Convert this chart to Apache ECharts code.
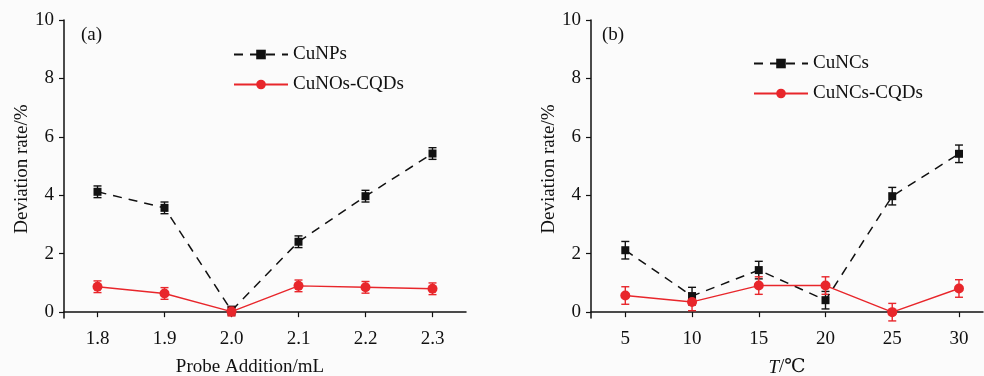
<!DOCTYPE html>
<html>
<head>
<meta charset="utf-8">
<script src="https://cdn.jsdelivr.net/npm/echarts@6/dist/echarts.min.js"></script>
<style>
  html, body { margin: 0; padding: 0; background: #fbfbfb; }
  #main { width: 984px; height: 376px; }
</style>
</head>
<body>
<div id="main"></div>
<script>
// panel (a)
const probeAdd = [1.8, 1.9, 2.0, 2.1, 2.2, 2.3]
const cuNPs = [4.12, 3.57, 0.05, 2.41, 3.97, 5.43]
const cuNPsErr = [0.2, 0.2, 0.15, 0.2, 0.2, 0.2]
const cuNOsCQDs = [0.87, 0.64, 0.02, 0.9, 0.85, 0.8]
const cuNOsCQDsErr = [0.2, 0.2, 0.15, 0.2, 0.2, 0.2]
// panel (b)
const temps = [5, 10, 15, 20, 25, 30]
const cuNCs = [2.12, 0.55, 1.44, 0.41, 3.97, 5.42]
const cuNCsErr = [0.3, 0.3, 0.3, 0.3, 0.3, 0.3]
const cuNCsCQDs = [0.57, 0.35, 0.91, 0.91, 0.0, 0.81]
const cuNCsCQDsErr = [0.3, 0.3, 0.3, 0.3, 0.3, 0.3]
const yTicks = [0, 2, 4, 6, 8, 10]

const FONT = '"Liberation Serif", "DejaVu Serif", serif'
const FS = 19
const BLACK = '#111111'
const RED = '#e8262b'

const pairs = (xs, ys) => xs.map((x, i) => [x, ys[i]])
const errData = (xs, ys, es) => xs.map((x, i) => [x, ys[i] - es[i], ys[i] + es[i]])

function errSeries(idx, data, color) {
  return {
    type: 'custom',
    xAxisIndex: idx,
    yAxisIndex: idx,
    data: data,
    z: 3,
    silent: true,
    renderItem(params, api) {
      const x = api.value(0)
      const top = api.coord([x, api.value(2)])
      const bot = api.coord([x, api.value(1)])
      const w = 4
      const style = { stroke: color, lineWidth: 1.4 }
      return {
        type: 'group',
        children: [
          { type: 'line', shape: { x1: top[0], y1: top[1], x2: bot[0], y2: bot[1] }, style },
          { type: 'line', shape: { x1: top[0] - w, y1: top[1], x2: top[0] + w, y2: top[1] }, style },
          { type: 'line', shape: { x1: bot[0] - w, y1: bot[1], x2: bot[0] + w, y2: bot[1] }, style }
        ]
      }
    }
  }
}

const axisBase = {
  axisLine: { lineStyle: { color: BLACK, width: 1.5 } },
  axisTick: { length: 5, lineStyle: { color: BLACK, width: 1.2 } },
  splitLine: { show: false },
  nameTextStyle: { fontFamily: FONT, fontSize: FS, color: BLACK }
}

function yAxis(idx) {
  return Object.assign({}, axisBase, {
    type: 'value',
    gridIndex: idx,
    min: -0.2,
    max: 10,
    name: 'Deviation rate/%',
    nameLocation: 'middle',
    nameGap: 30,
    axisTick: Object.assign({}, axisBase.axisTick, { customValues: yTicks }),
    axisLabel: { customValues: yTicks, fontFamily: FONT, fontSize: FS, color: BLACK, margin: 10 }
  })
}

function legend(names, left, top) {
  return {
    data: names,
    orient: 'vertical',
    left: left,
    top: top,
    padding: 0,
    itemWidth: 54,
    itemHeight: 12,
    itemGap: 11,
    textStyle: { fontFamily: FONT, fontSize: FS, color: BLACK }
  }
}

const chart = echarts.init(document.getElementById('main'))
chart.setOption({
  backgroundColor: '#fbfbfb',
  animation: false,
  title: [
    { text: '(a)', left: 81, top: 26, padding: 0, textStyle: { fontFamily: FONT, fontSize: FS, fontWeight: 'normal', color: BLACK } },
    { text: '(b)', left: 602, top: 26, padding: 0, textStyle: { fontFamily: FONT, fontSize: FS, fontWeight: 'normal', color: BLACK } }
  ],
  legend: [
    legend(['CuNPs', 'CuNOs-CQDs'], 233, 45),
    legend(['CuNCs', 'CuNCs-CQDs'], 753, 54)
  ],
  grid: [
    { left: 64, top: 20, width: 402, height: 298, outerBoundsMode: 'none' },
    { left: 591, top: 20, width: 392, height: 298, outerBoundsMode: 'none' }
  ],
  xAxis: [
    Object.assign({}, axisBase, {
      type: 'value',
      gridIndex: 0,
      min: 1.75,
      max: 2.35,
      name: 'Probe Addition/mL',
      nameLocation: 'middle',
      nameGap: 40,
      nameTextStyle: Object.assign({}, axisBase.nameTextStyle, { padding: [0, 30, 0, 0] }),
      axisTick: Object.assign({}, axisBase.axisTick, { customValues: probeAdd }),
      axisLabel: { customValues: probeAdd, formatter: v => v.toFixed(1), fontFamily: FONT, fontSize: FS, color: BLACK, margin: 12 }
    }),
    Object.assign({}, axisBase, {
      type: 'value',
      gridIndex: 1,
      min: 2.43,
      max: 31.8,
      name: '{i|T}/℃',
      nameLocation: 'middle',
      nameGap: 40,
      nameTextStyle: Object.assign({}, axisBase.nameTextStyle, {
        rich: { i: { fontFamily: FONT, fontSize: FS, fontStyle: 'italic', color: BLACK } }
      }),
      axisTick: Object.assign({}, axisBase.axisTick, { customValues: temps }),
      axisLabel: { customValues: temps, fontFamily: FONT, fontSize: FS, color: BLACK, margin: 12 }
    })
  ],
  yAxis: [yAxis(0), yAxis(1)],
  series: [
    {
      name: 'CuNPs', type: 'line', xAxisIndex: 0, yAxisIndex: 0,
      data: pairs(probeAdd, cuNPs),
      symbol: 'rect', symbolSize: 8,
      itemStyle: { color: BLACK },
      lineStyle: { color: BLACK, width: 1.5, type: [9, 7] },
      z: 4
    },
    errSeries(0, errData(probeAdd, cuNPs, cuNPsErr), BLACK),
    {
      name: 'CuNOs-CQDs', type: 'line', xAxisIndex: 0, yAxisIndex: 0,
      data: pairs(probeAdd, cuNOsCQDs),
      symbol: 'circle', symbolSize: 10,
      itemStyle: { color: RED },
      lineStyle: { color: RED, width: 1.4 },
      z: 5
    },
    errSeries(0, errData(probeAdd, cuNOsCQDs, cuNOsCQDsErr), RED),
    {
      name: 'CuNCs', type: 'line', xAxisIndex: 1, yAxisIndex: 1,
      data: pairs(temps, cuNCs),
      symbol: 'rect', symbolSize: 8,
      itemStyle: { color: BLACK },
      lineStyle: { color: BLACK, width: 1.5, type: [9, 7] },
      z: 4
    },
    errSeries(1, errData(temps, cuNCs, cuNCsErr), BLACK),
    {
      name: 'CuNCs-CQDs', type: 'line', xAxisIndex: 1, yAxisIndex: 1,
      data: pairs(temps, cuNCsCQDs),
      symbol: 'circle', symbolSize: 10,
      itemStyle: { color: RED },
      lineStyle: { color: RED, width: 1.4 },
      z: 5
    },
    errSeries(1, errData(temps, cuNCsCQDs, cuNCsCQDsErr), RED)
  ]
})
</script>
</body>
</html>
